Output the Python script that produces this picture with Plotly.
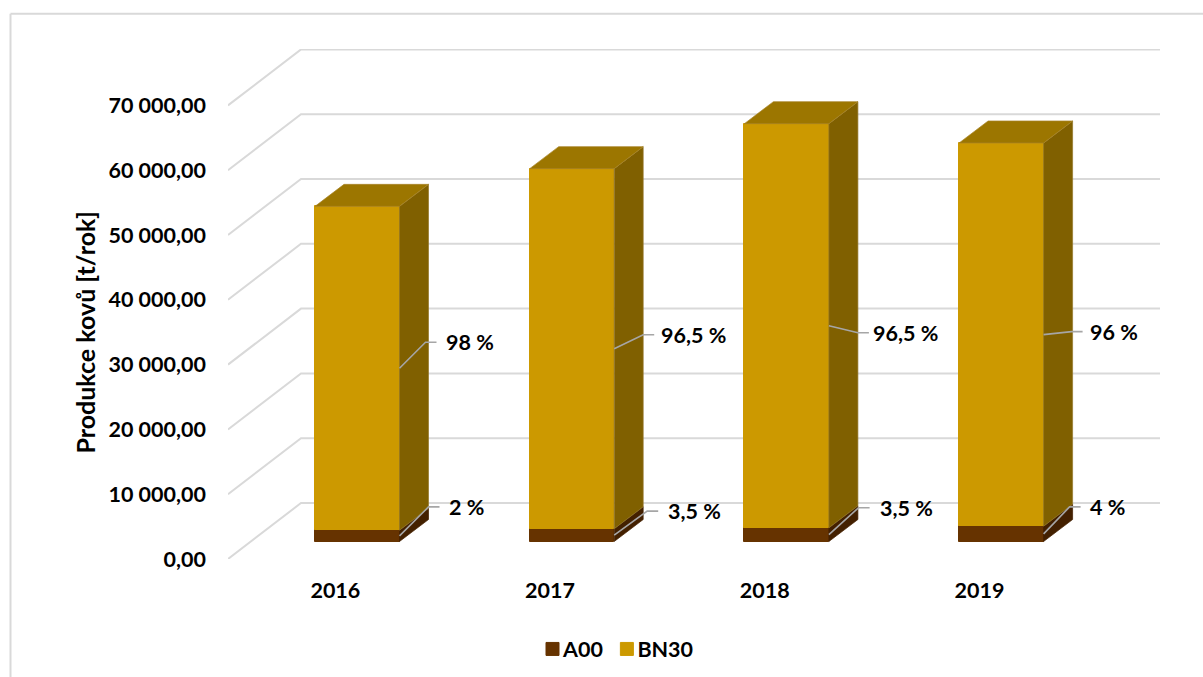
import plotly.graph_objects as go

# ---- data ----
YEARS = ["2016", "2017", "2018", "2019"]
A00 = [1740, 1960, 2110, 2360]
BN30 = [49980, 55580, 62370, 59140]
A00_LABELS = ["2 %", "3,5 %", "3,5 %", "4 %"]
BN30_LABELS = ["98 %", "96,5 %", "96,5 %", "96 %"]
Y_TICKS = [0, 10000, 20000, 30000, 40000, 50000, 60000, 70000]
Y_TICK_TEXT = ["0,00", "10 000,00", "20 000,00", "30 000,00", "40 000,00",
               "50 000,00", "60 000,00", "70 000,00"]

# ---- layout constants (pixels) ----
W, H = 1203, 677
PL, PR, PT, PB = 228, 1160, 49.3, 559.5
PX_X = 214.7                 # px per category
PX_Y = 453.8 / 70000         # px per value unit
FONT = "Lato"
FS = 21.5
FS_TITLE = 25
TXT = "#000000"

def dx(p): return p / PX_X
def dy(p): return p / PX_Y

X_MIN = -0.5
X_MAX = X_MIN + (PR - PL) / PX_X
Y_MAX = (PB - PT) / PX_Y

FLOOR_DX, FLOOR_DY = dx(73), dy(56)
BAR_SHIFT = dx(21.9)
BAR_W = dx(84.5)
DEPTH_X, DEPTH_Y = dx(29), dy(22)
BASE = dy(17.5)

# leader elbow offsets from the segment mid-point on the right bar edge (px, up positive)
BN30_ELBOW = [(26, 26), (29, 14), (29, -7), (28, 3)]
A00_ELBOW = [(29, 29), (33, 24), (29.7, 27), (26, 27)]
BN30_GAP = [7, 5, 2, 5]
A00_GAP = [7, 8, 8, 7]
TAIL = 11

C_FRONT = {"A00": "#663300", "BN30": "#CC9900"}
C_SIDE = {"A00": "#432000", "BN30": "#806000"}
C_TOP = "#9C7600"
C_GRID = "#D9D9D9"
C_LEAD = "#A6A6A6"

fig = go.Figure()
cats = list(range(len(YEARS)))
fx = lambda p: (p - PL) / (PR - PL)
fy = lambda p: (PB - p) / (PB - PT)

shapes = [
    dict(type="line", xref="paper", yref="paper", x0=fx(10.5), x1=fx(W + 5), y0=fy(14), y1=fy(14),
         line=dict(color="#D9D9D9", width=2), layer="below"),
    dict(type="line", xref="paper", yref="paper", x0=fx(10.5), x1=fx(10.5), y0=fy(14), y1=fy(H + 5),
         line=dict(color="#D9D9D9", width=2), layer="below"),
]
# gridlines: diagonal on the side wall + horizontal on the back wall (beneath the bars)
for v in Y_TICKS:
    shapes.append(dict(
        type="path", xref="x", yref="y", layer="below",
        path=f"M {X_MIN} {v} L {X_MIN + FLOOR_DX} {v + FLOOR_DY} L {X_MAX} {v + FLOOR_DY}",
        line=dict(color=C_GRID, width=2)))

def poly(xs, ys, color, edge=None):
    fig.add_trace(go.Scatter(
        x=xs + xs[:1], y=ys + ys[:1], mode="lines", fill="toself",
        fillcolor=color, line=dict(color=edge or color, width=0.7),
        showlegend=False, hoverinfo="skip"))

for i in cats:
    xl = i + BAR_SHIFT - BAR_W / 2
    xr = i + BAR_SHIFT + BAR_W / 2
    b0 = BASE
    b1 = BASE + A00[i]
    b2 = b1 + BN30[i]
    poly([xr, xr + DEPTH_X, xr + DEPTH_X, xr],
         [b0, b0 + DEPTH_Y, b1 + DEPTH_Y, b1], C_SIDE["A00"])
    poly([xr, xr + DEPTH_X, xr + DEPTH_X, xr],
         [b1, b1 + DEPTH_Y, b2 + DEPTH_Y, b2], C_SIDE["BN30"], "#93772A")
    poly([xl, xr, xr + DEPTH_X, xl + DEPTH_X],
         [b2, b2, b2 + DEPTH_Y, b2 + DEPTH_Y], C_TOP, "#A8842A")

xbar = [i + BAR_SHIFT for i in cats]
fig.add_trace(go.Bar(
    x=xbar, y=A00, base=[BASE] * len(cats), width=BAR_W, name="A00",
    marker=dict(color=C_FRONT["A00"], line=dict(color=C_FRONT["A00"], width=1)),
    hoverinfo="skip"))
fig.add_trace(go.Bar(
    x=xbar, y=BN30, base=[BASE + a for a in A00], width=BAR_W, name="BN30",
    marker=dict(color=C_FRONT["BN30"], line=dict(color=C_FRONT["BN30"], width=1)),
    hoverinfo="skip"))

# leaders + percentage labels
annotations = []
def leader(i, mid, elbow, label, gap):
    x0 = i + BAR_SHIFT + BAR_W / 2
    xe = x0 + dx(elbow[0])
    ye = mid + dy(elbow[1])
    xt = xe + dx(TAIL)
    fig.add_trace(go.Scatter(
        x=[x0, xe, xt], y=[mid, ye, ye], mode="lines",
        line=dict(color=C_LEAD, width=1.6),
        showlegend=False, hoverinfo="skip"))
    annotations.append(dict(
        x=xt, y=ye, xref="x", yref="y", text=label, showarrow=False,
        xanchor="left", yanchor="middle", xshift=gap, yshift=0,
        font=dict(family=FONT, size=FS, color=TXT, weight="bold")))

for i in cats:
    leader(i, BASE + A00[i] + BN30[i] / 2, BN30_ELBOW[i], BN30_LABELS[i], BN30_GAP[i])
    leader(i, BASE + A00[i] / 2, A00_ELBOW[i], A00_LABELS[i], A00_GAP[i])

# y axis title
annotations.append(dict(
    x=fx(85), y=fy(333), xref="paper", yref="paper",
    text="Produkce kovů [t/rok]", showarrow=False, textangle=-90,
    xanchor="center", yanchor="middle",
    font=dict(family=FONT, size=FS_TITLE, color=TXT, weight="bold")))

fig.update_layout(
    width=W, height=H,
    margin=dict(l=PL, r=W - PR, t=PT, b=H - PB, pad=0, autoexpand=False),
    paper_bgcolor="white", plot_bgcolor="white",
    barmode="overlay", bargap=0,
    showlegend=True,
    legend=dict(orientation="h", x=fx(523), y=fy(629), xanchor="left", yanchor="top",
                font=dict(family=FONT, size=FS, color=TXT, weight="bold"),
                bgcolor="rgba(0,0,0,0)", itemclick=False, itemdoubleclick=False),
    annotations=annotations, shapes=shapes,
    xaxis=dict(range=[X_MIN, X_MAX], tickmode="array", tickvals=cats, ticktext=YEARS,
               showgrid=False, zeroline=False, showline=False, ticks="",
               ticklabelstandoff=16,
               tickfont=dict(family=FONT, size=FS, color=TXT, weight="bold")),
    yaxis=dict(range=[0, Y_MAX], tickmode="array", tickvals=Y_TICKS, ticktext=Y_TICK_TEXT,
               showgrid=False, zeroline=False, showline=False, ticks="",
               ticklabelstandoff=21,
               tickfont=dict(family=FONT, size=FS, color=TXT, weight="bold")),
)

POST = """
document.body.style.margin='0';
document.querySelectorAll('.legend .legendsymbols').forEach(function(s){
  s.setAttribute('transform','translate(9.5,0)');
});
document.querySelectorAll('.legend .legendpoints path').forEach(function(p){
  p.setAttribute('d','M6.5,6.5H-6.5V-6.5H6.5Z');
});
var items = document.querySelectorAll('.legend .traces');
if (items.length > 1) {
  var m = /translate\\(([-\\d.]+),\\s*([-\\d.]+)\\)/.exec(items[1].getAttribute('transform'));
  if (m) { items[1].setAttribute('transform','translate('+(parseFloat(m[1])-11.5)+','+m[2]+')'); }
}
"""
fig.write_html("out.html", post_script=POST, config=dict(displayModeBar=False))
